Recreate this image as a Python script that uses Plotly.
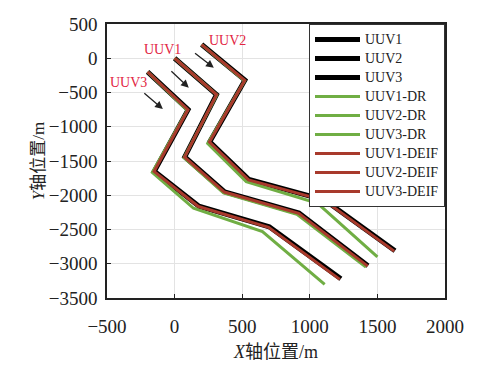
import plotly.graph_objects as go

# True trajectories
uuv1_x = [0, 310, 75, 370, 920, 1430]
uuv1_y = [0, -530, -1440, -1950, -2260, -3030]
uuv2_x = [200, 520, 260, 550, 1110, 1630]
uuv2_y = [200, -320, -1220, -1770, -2070, -2810]
uuv3_x = [-200, 100, -150, 180, 700, 1230]
uuv3_y = [-200, -750, -1650, -2160, -2460, -3220]

# Dead-reckoning trajectories
dr1_x = [0, 312, 70, 362, 905, 1415]
dr1_y = [0, -535, -1450, -1965, -2280, -3050]
dr2_x = [200, 518, 245, 530, 1058, 1500]
dr2_y = [200, -330, -1245, -1800, -2118, -2900]
dr3_x = [-200, 95, -165, 140, 650, 1110]
dr3_y = [-200, -760, -1665, -2190, -2530, -3300]

# DEIF trajectories
de1_x = [0, 310, 74, 368, 918, 1428]
de1_y = [0, -531, -1442, -1953, -2263, -3034]
de2_x = [200, 519, 258, 547, 1106, 1624]
de2_y = [200, -322, -1224, -1775, -2075, -2816]
de3_x = [-200, 99, -152, 176, 695, 1222]
de3_y = [-200, -752, -1653, -2165, -2467, -3228]

names_true = ["UUV1", "UUV2", "UUV3"]
names_dr = ["UUV1-DR", "UUV2-DR", "UUV3-DR"]
names_de = ["UUV1-DEIF", "UUV2-DEIF", "UUV3-DEIF"]

label_text = ["UUV1", "UUV2", "UUV3"]
label_x = [-87, 392, -338]
label_y = [135, 266, -361]

arrow_tail_x = [-35, 140, -235]
arrow_tail_y = [-170, 90, -493]
arrow_head_x = [105, 290, -87]
arrow_head_y = [-430, -140, -741]

BLACK = "#000000"
GREEN = "rgb(112,174,68)"
RED = "rgb(168,58,44)"
FONT = "Liberation Serif, Noto Sans CJK SC"


def lg(name):
    return '<span style="font-size:14px">' + name + "</span>"


fig = go.Figure()
for xs, ys, n in zip([uuv1_x, uuv2_x, uuv3_x], [uuv1_y, uuv2_y, uuv3_y], names_true):
    fig.add_trace(go.Scatter(x=xs, y=ys, mode="lines", name=lg(n),
                             line=dict(color=BLACK, width=5)))
for xs, ys, n in zip([dr1_x, dr2_x, dr3_x], [dr1_y, dr2_y, dr3_y], names_dr):
    fig.add_trace(go.Scatter(x=xs, y=ys, mode="lines", name=lg(n),
                             line=dict(color=GREEN, width=3)))
for xs, ys, n in zip([de1_x, de2_x, de3_x], [de1_y, de2_y, de3_y], names_de):
    fig.add_trace(go.Scatter(x=xs, y=ys, mode="lines", name=lg(n),
                             line=dict(color=RED, width=3)))

annotations = []
for t, x, y in zip(label_text, label_x, label_y):
    annotations.append(dict(x=x, y=y, xref="x", yref="y", text=t, showarrow=False,
                            font=dict(family=FONT, size=14, color="rgb(226,36,66)")))
for tx, ty, hx, hy in zip(arrow_tail_x, arrow_tail_y, arrow_head_x, arrow_head_y):
    annotations.append(dict(x=hx, y=hy, ax=tx, ay=ty, xref="x", yref="y",
                            axref="x", ayref="y", text="", showarrow=True,
                            arrowhead=2, arrowsize=1.2, arrowwidth=1.3,
                            arrowcolor="#222222"))

axis_common = dict(showline=True, linecolor="#222222", linewidth=1.5, mirror=True,
                   ticks="inside", ticklen=4, tickcolor="#222222",
                   showgrid=True, gridcolor="#e3e3e3", gridwidth=1,
                   zeroline=False, automargin=False,
                   tickfont=dict(family=FONT, size=19, color="#222222"))

fig.update_layout(
    width=491, height=365,
    margin=dict(l=99, r=54, t=16, b=75),
    paper_bgcolor="white", plot_bgcolor="white",
    xaxis=dict(range=[-500, 2000], tickvals=[-500, 0, 500, 1000, 1500, 2000],
               title=dict(text="<i>X</i>轴位置/m", font=dict(family=FONT, size=18, color="#222222"),
                          standoff=10),
               ticklabelstandoff=10, **axis_common),
    yaxis=dict(range=[-3500, 500], tickvals=[-3500, -3000, -2500, -2000, -1500, -1000, -500, 0, 500],
               title=dict(text="<i>Y</i>轴位置/m", font=dict(family=FONT, size=17, color="#222222"),
                          standoff=0),
               ticklabelstandoff=4, **axis_common),
    legend=dict(x=1, y=1, xanchor="right", yanchor="top", bgcolor="white",
                bordercolor="#333333", borderwidth=1,
                font=dict(family=FONT, size=11, color="#222222"),
                itemwidth=45, tracegroupgap=0),
    annotations=annotations,
    showlegend=True,
)

fig.write_html("out.html")
